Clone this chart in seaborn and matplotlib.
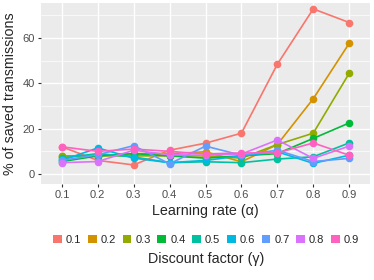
import pandas as pd
import numpy as np
import matplotlib
matplotlib.use("Agg")
import matplotlib.pyplot as plt
import seaborn as sns
from matplotlib.patches import Patch

# valores
alphas = [0.1, 0.2, 0.3, 0.4, 0.5, 0.6, 0.7, 0.8, 0.9]
gammas = ['0.1', '0.2', '0.3', '0.4', '0.5', '0.6', '0.7', '0.8', '0.9']

g01 = [12, 6, 4, 10.5, 13.6, 18, 48.4, 72.8, 66.8]
g02 = [8, 8, 9, 9, 9.8, 5.4, 13, 33.2, 57.6]
g03 = [7.9, 8, 8, 8, 8, 7, 13, 18, 44.4]
g04 = [5.5, 8, 9, 8, 7, 8, 9, 15.7, 22.5]
g05 = [7, 9, 7.5, 5, 5.4, 5, 6.6, 7.6, 13.7]
g06 = [6, 11.5, 7, 5, 6, 8, 9.8, 4.7, 8.3]
g07 = [6, 8.5, 12.5, 4.5, 12.3, 8.3, 10.5, 5.5, 6.9]
g08 = [5, 5.5, 10.5, 8.5, 8.3, 8.8, 15, 6.9, 12.3]
g09 = [12, 10, 11, 10, 8.8, 9.3, 9.3, 13.7, 8.3]

colores = ['#F8766D', '#D39200', '#93AA00', '#00BA38', '#00C19F',
           '#00B9E3', '#619CFF', '#DB72FB', '#FF61C3']

series = [g01, g02, g03, g04, g05, g06, g07, g08, g09]
filas = []
for g, vals in zip(gammas, series):
    for a, v in zip(alphas, vals):
        filas.append({'alpha': a, 'gamma': g, 'saved': v})
df = pd.DataFrame(filas)

sns.set_style('darkgrid', {'axes.facecolor': '#EBEBEB', 'grid.color': 'white'})
plt.rcParams['font.family'] = ['Liberation Sans', 'DejaVu Sans']

fig = plt.figure(figsize=(3.74, 2.8), dpi=100)
ax = fig.add_axes([41 / 374, 1 - 184 / 280, 329 / 374, 181 / 280])

sns.lineplot(data=df, x='alpha', y='saved', hue='gamma', palette=colores,
             marker='o', markersize=5.5, markeredgewidth=0, linewidth=1.2,
             legend=False, ax=ax)

ax.set_xlim(0.042, 0.958)
ax.set_ylim(-4.4, 75.4)
ax.set_xticks(alphas)
ax.set_xticklabels([str(a) for a in alphas])
ax.set_yticks([0, 20, 40, 60])
ax.set_yticks([10, 30, 50, 70], minor=True)
ax.grid(which='major', color='white', linewidth=1.0)
ax.grid(which='minor', axis='y', color='white', linewidth=0.5)
ax.tick_params(axis='both', which='major', labelsize=8, labelcolor='#4D4D4D',
               length=2.5, width=0.8, color='#333333', pad=2, bottom=True, left=True)
ax.tick_params(which='minor', length=0)
for s in ax.spines.values():
    s.set_visible(False)

ax.set_xlabel('Learning rate (α)', fontsize=10.3, labelpad=3)
ax.set_ylabel('% of saved transmissions', fontsize=10.3, labelpad=4)

handles = [Patch(facecolor=c, edgecolor='none') for c in colores]
fig.legend(handles, gammas, loc='center', bbox_to_anchor=(206 / 374, 1 - 240 / 280),
           ncol=9, frameon=False, fontsize=8, handlelength=0.8, handleheight=0.8,
           handletextpad=0.35, columnspacing=0.6)
fig.text(206 / 374, 1 - 259 / 280, 'Discount factor (γ)', ha='center', va='center',
         fontsize=10.3)

fig.savefig('out.png', dpi=100)
